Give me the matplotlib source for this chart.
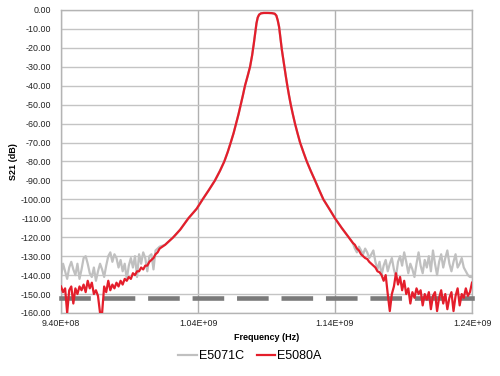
import numpy as np
import matplotlib
matplotlib.use("Agg")
import matplotlib.pyplot as plt
from matplotlib.ticker import FuncFormatter, MultipleLocator, FixedLocator

plt.rcParams['font.family'] = ['Liberation Sans', 'DejaVu Sans']

# sweep points below the passband (MHz), noise floor region
f_left = np.linspace(940, 1012, 49)
e5080_left = [-146, -149, -147, -160, -148, -146, -155, -147, -150, -146,
              -148, -145, -149, -143, -147, -144, -150, -148, -151, -160,
              -160, -146, -149, -143, -148, -145, -147, -144, -146, -143,
              -145, -142, -143, -141, -142, -139, -140, -138, -138, -136,
              -137, -135, -135, -133, -132, -131, -129, -128, -126]
e5071_left = [-141, -134, -138, -142, -136, -133, -137, -140, -134, -142,
              -137, -131, -130, -134, -139, -141, -136, -143, -138, -134,
              -137, -141, -135, -130, -128, -133, -129, -131, -136, -132,
              -138, -134, -142, -135, -131, -136, -130, -141, -129, -134,
              -128, -131, -138, -130, -129, -137, -127, -126, -125]

# filter skirts and passband (MHz, dB) - both analyzers agree here
f_mid = [1016, 1022, 1027, 1033, 1039, 1043.4, 1048, 1052.4, 1056, 1059.2,
         1061.7, 1063.9, 1066, 1067.8, 1069.6, 1071.2, 1072.8, 1074.3, 1076.2, 1078,
         1079.5, 1080.7, 1081.8, 1082.7, 1083.6, 1084.6, 1086, 1088, 1091, 1094,
         1096, 1097.2, 1098.2, 1099.2, 1100.2, 1101.2, 1102.3, 1103, 1104.1, 1105.2,
         1106.4, 1107.7, 1109.2, 1110.8, 1112.6, 1114.5, 1116.9, 1119.4, 1122.3, 1125.4,
         1128.4, 1131.5, 1135.8, 1140, 1144.8]
s21_mid = [-124, -120, -116, -110, -105, -100, -95, -90, -85, -80,
           -75, -70, -65, -60, -55, -50, -45, -40, -35, -30,
           -24, -18, -12, -7, -4, -2.5, -1.8, -1.6, -1.6, -1.7,
           -2.0, -3, -5.5, -9, -15, -21, -26.4, -30, -35, -40,
           -45, -50, -55, -60, -65, -70, -75, -80, -85, -90,
           -95, -100, -105, -110, -115]

# sweep points above the passband (MHz)
f_right = np.linspace(1150, 1240, 61)
e5080_right = [-120, -121.5, -123, -124, -126, -127, -129, -130, -131, -131.5,
               -133, -134, -135, -136, -138, -138.5, -140, -143, -140, -150,
               -159, -150, -146, -139, -145, -141, -148, -143, -150, -147,
               -155, -149, -152, -147, -150, -148, -156, -150, -153, -149,
               -158, -151, -149, -159, -152, -148, -155, -150, -158, -152,
               -149, -159, -151, -147, -156, -150, -152, -147, -151, -149,
               -144]
e5071_right = [-120, -121.5, -123, -126, -128, -125, -127, -129, -126, -128,
               -131, -129, -127, -133, -137, -133, -140, -135, -132, -138,
               -134, -131, -137, -141, -133, -130, -135, -128, -133, -139,
               -134, -137, -141, -134, -128, -135, -139, -132, -136, -130,
               -138, -127, -134, -140, -133, -129, -136, -131, -127, -134,
               -138, -133, -129, -136, -134, -131, -136, -138, -140, -141,
               -141]

x_ticks = [940e6, 1040e6, 1140e6, 1240e6]
floor_level = -152  # dashed reference line

f_all = np.concatenate([f_left, f_mid, f_right]) * 1e6
red = np.concatenate([e5080_left, s21_mid, e5080_right])
gray = np.concatenate([e5071_left, s21_mid, e5071_right])

fig = plt.figure(figsize=(5.0, 3.76), dpi=100)
ax = fig.add_axes([0.122, 0.1676, 0.822, 0.806])

ax.plot(f_all, gray, color='#c0c0c0', lw=1.6, zorder=2, label='E5071C')
ax.plot([940e6, 1240e6], [floor_level, floor_level], color='#7a7a7a', lw=3.3,
        linestyle=(0, (5.9, 3.8)), dash_capstyle='projecting', zorder=3, clip_on=False)
ax.plot(f_all, red, color='#e41e2b', lw=1.6, zorder=4, label='E5080A')

ax.set_xlim(940e6, 1240e6)
ax.set_ylim(-160, 0)
ax.xaxis.set_major_locator(FixedLocator(x_ticks))
ax.yaxis.set_major_locator(MultipleLocator(10))
ax.xaxis.set_major_formatter(FuncFormatter(lambda v, p: f"{v:.2E}"))
ax.yaxis.set_major_formatter(FuncFormatter(lambda v, p: f"{v:.2f}"))
ax.tick_params(axis='both', length=0, labelsize=6.4, colors='#222222')
ax.tick_params(axis='y', pad=7)
ax.tick_params(axis='x', pad=4)

ax.grid(axis='y', color='#c4c4c4', lw=1.0)
ax.grid(axis='x', color='#b0b0b0', lw=1.0)
ax.set_axisbelow(True)
for s in ax.spines.values():
    s.set_color('#b4b4b4')
    s.set_linewidth(1.0)

ax.set_xlabel('Frequency (Hz)', fontsize=6.5, fontweight='bold', labelpad=4)
ax.set_ylabel('S21 (dB)', fontsize=6.5, fontweight='bold', labelpad=2)

fig.legend(loc='center', bbox_to_anchor=(0.5, 0.053), ncol=2, frameon=False,
           fontsize=9, handlelength=1.45, handletextpad=0.2, columnspacing=1.0)

fig.savefig('out.png', dpi=100)
